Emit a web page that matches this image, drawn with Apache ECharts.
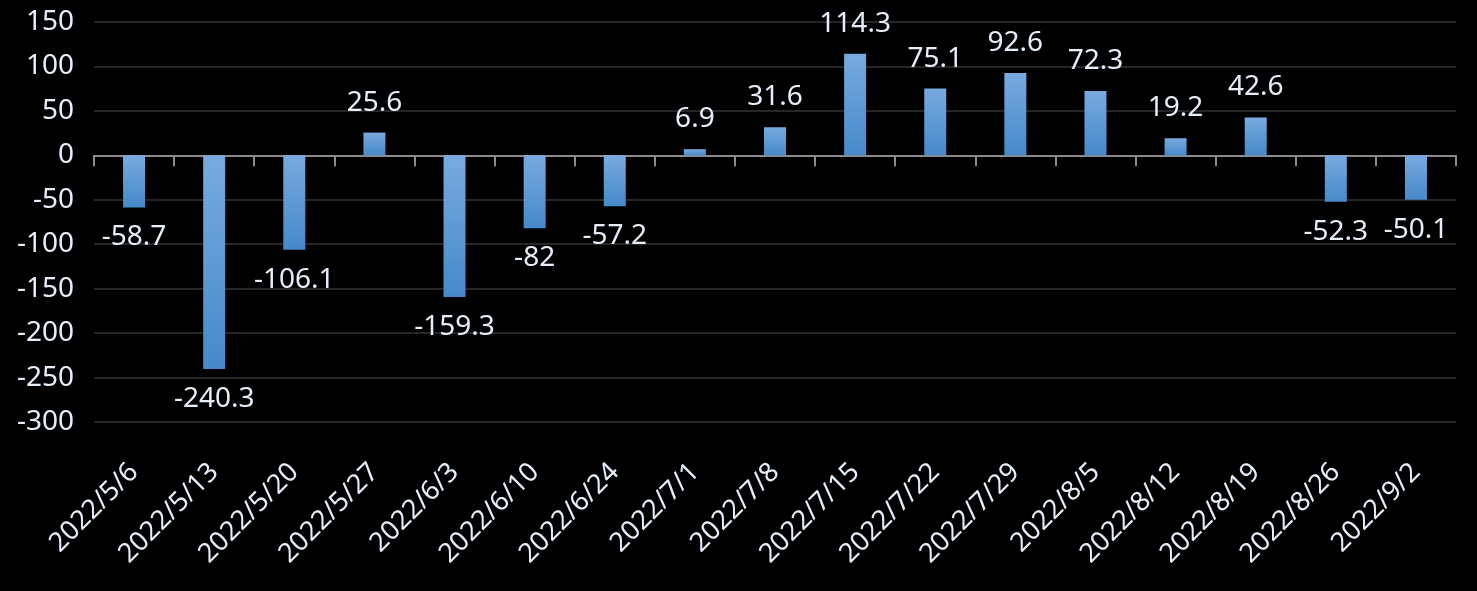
<!DOCTYPE html>
<html>
<head>
<meta charset="utf-8">
<script src="https://cdn.jsdelivr.net/npm/echarts@6/dist/echarts.min.js"></script>
<style>
html,body{margin:0;padding:0;background:#000;}
#chart{width:1477px;height:591px;}
</style>
</head>
<body>
<div id="chart"></div>
<script>
const categories = ['2022/5/6','2022/5/13','2022/5/20','2022/5/27','2022/6/3','2022/6/10','2022/6/24','2022/7/1','2022/7/8','2022/7/15','2022/7/22','2022/7/29','2022/8/5','2022/8/12','2022/8/19','2022/8/26','2022/9/2'];
const values = [-58.7,-240.3,-106.1,25.6,-159.3,-82,-57.2,6.9,31.6,114.3,75.1,92.6,72.3,19.2,42.6,-52.3,-50.1];
const yMin = -300, yMax = 150, yStep = 50;

const FONT = 'Noto Sans';
const TXT = '#e6eef9';

const chart = echarts.init(document.getElementById('chart'), null, {renderer:'canvas'});
const grad = new echarts.graphic.LinearGradient(0,0,0,1,[
  {offset:0,color:'#78aae0'},
  {offset:1,color:'#4689ca'}
]);
chart.setOption({
  backgroundColor:'#000',
  animation:false,
  grid:{left:94,right:21,top:22,bottom:169},
  xAxis:[{
    type:'category',
    data:categories,
    axisLine:{onZero:true,lineStyle:{color:'#8c8c8c',width:2}},
    axisTick:{show:true,length:11,lineStyle:{color:'#8c8c8c',width:2}},
    axisLabel:{show:false}
  },{
    type:'category',
    data:categories,
    position:'bottom',
    axisLine:{show:false,onZero:false},
    axisTick:{show:false},
    axisLabel:{rotate:45,fontSize:27,fontFamily:FONT,color:TXT,margin:46,interval:0}
  }],
  yAxis:{
    type:'value',
    min:yMin,max:yMax,interval:yStep,
    axisLine:{show:false},
    axisTick:{show:false},
    splitLine:{lineStyle:{color:'#262626',width:2}},
    axisLabel:{fontSize:28,fontFamily:FONT,color:TXT,margin:20}
  },
  series:[{
    type:'bar',
    xAxisIndex:0,
    barWidth:22,
    data:values.map(v=>({
      value:v,
      label:{show:true,position:v>=0?'top':'bottom',distance:16}
    })),
    itemStyle:{color:grad},
    label:{fontSize:28,fontFamily:FONT,color:TXT}
  }]
});
</script>
</body>
</html>
